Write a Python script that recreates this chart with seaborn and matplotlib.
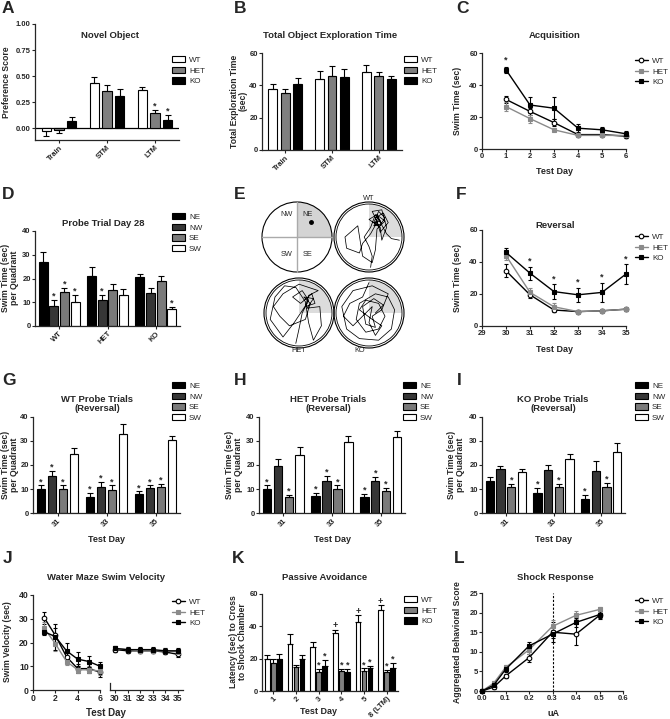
import numpy as np
import pandas as pd
import matplotlib
matplotlib.use("Agg")
import matplotlib.pyplot as plt
from matplotlib.patches import Patch, Circle, Wedge
from matplotlib.lines import Line2D
from matplotlib.ticker import FormatStrFormatter
import seaborn as sns

# ---------------- dados ----------------
genotypes = ["WT", "HET", "KO"]
quadrants = ["NE", "NW", "SE", "SW"]

# A - Novel Object (preference score)
nor_phases = ["Train", "STM", "LTM"]
pref_wt = [-0.03, 0.43, 0.37]
pref_het = [-0.02, 0.36, 0.15]
pref_ko = [0.07, 0.31, 0.08]
pref_wt_err = [0.04, 0.06, 0.03]
pref_het_err = [0.025, 0.06, 0.025]
pref_ko_err = [0.04, 0.07, 0.05]

# B - Total object exploration time
expl_wt = [37.5, 44, 48]
expl_het = [35.5, 45.5, 45.5]
expl_ko = [41, 45, 44]
expl_wt_err = [3.5, 5, 4.5]
expl_het_err = [2, 6.5, 3]
expl_ko_err = [3.5, 5, 1.5]

# C - Acquisition
acq_days = [1, 2, 3, 4, 5, 6]
acq_wt = [31, 23.5, 16.5, 9, 9, 8]
acq_het = [26.5, 19, 12, 8.5, 8.5, 8.5]
acq_ko = [49.5, 27.5, 25.5, 13, 12, 9.5]
acq_wt_err = [2, 2, 2, 1, 1, 1]
acq_het_err = [3, 2.5, 1, 1, 1, 1.5]
acq_ko_err = [2, 5, 7, 2.5, 1.5, 1.5]

# D - Probe trial day 28 (linhas = quadrantes, colunas = genótipos)
probe_ne = [27, 21, 20.5]
probe_nw = [8.5, 11, 14]
probe_se = [14.5, 15, 19]
probe_sw = [10, 13, 7]
probe_ne_err = [4, 4, 1.5]
probe_nw_err = [2.5, 2, 2]
probe_se_err = [1.5, 2.5, 2]
probe_sw_err = [3, 2.5, 1]

# E - trajetórias (coordenadas no círculo unitário)
path_wt = [(0.05, -0.95), (0.1, -0.6), (0.0, -0.3), (-0.15, 0.0), (0.05, 0.3), (0.2, 0.7),
           (0.35, 0.5), (0.15, 0.45), (0.3, 0.8), (0.5, 0.6), (0.3, 0.3), (0.2, 0.6),
           (0.45, 0.75), (0.6, 0.45), (0.35, 0.15), (0.25, 0.5), (0.1, 0.8), (0.4, 0.85),
           (0.55, 0.3), (0.4, -0.1), (0.35, 0.3), (0.0, 0.55), (0.25, 0.7), (0.4, 0.4),
           (0.15, 0.35), (0.3, 0.65), (0.5, 0.5), (0.25, 0.25), (0.2, -0.4), (0.1, -0.8),
           (-0.2, -0.6), (-0.35, 0.35), (-0.75, 0.0), (-0.7, -0.35), (-0.3, -0.5),
           (-0.2, -0.2), (0.05, 0.1), (0.3, 0.55), (0.55, 0.1), (0.7, -0.05), (0.95, -0.1)]
path_het = [(-0.1, -0.95), (0.0, -0.5), (0.1, 0.0), (0.3, 0.4), (0.1, 0.7), (-0.2, 0.5),
            (0.05, 0.3), (0.4, 0.6), (0.5, 0.3), (0.2, 0.2), (0.3, 0.55), (0.6, 0.7),
            (0.0, 0.9), (-0.5, 0.6), (-0.8, 0.2), (-0.6, -0.1), (-0.3, -0.4), (0.2, -0.2),
            (0.35, 0.3), (0.15, 0.5), (0.45, 0.45), (0.25, 0.15), (0.65, 0.2), (0.7, -0.4),
            (0.45, -0.85), (0.3, -0.3), (0.2, 0.35), (-0.1, 0.8), (-0.45, 0.85),
            (-0.75, 0.5), (-0.9, -0.2), (-0.5, -0.75), (-0.15, -0.3), (0.25, 0.3)]
path_ko = [(0.0, 0.95), (-0.2, 0.5), (-0.6, 0.3), (-0.8, -0.1), (-0.5, -0.4), (-0.2, -0.1),
           (0.1, 0.2), (0.0, -0.3), (0.2, -0.7), (0.4, -0.4), (0.1, -0.2), (-0.3, 0.1),
           (-0.1, 0.4), (0.3, 0.3), (0.5, -0.1), (0.3, -0.5), (-0.1, -0.6), (-0.4, -0.2),
           (-0.3, 0.3), (0.2, 0.6), (0.6, 0.5), (0.8, 0.1), (0.7, -0.5), (0.3, -0.85),
           (-0.3, -0.8), (-0.7, -0.5), (-0.85, 0.2), (-0.5, 0.7), (0.1, 0.85), (0.6, 0.6),
           (0.4, 0.1), (0.1, -0.1), (0.2, -0.45), (-0.1, -0.35), (-0.2, 0.2), (0.15, 0.45),
           (0.45, 0.25), (0.2, 0.0)]

# F - Reversal
rev_days = [30, 31, 32, 33, 34, 35]
rev_wt = [34.5, 19.5, 10, 9, 9.5, 10.5]
rev_het = [44, 21, 12, 9, 9.5, 10.5]
rev_ko = [46, 33, 21.5, 19.5, 21, 32.5]
rev_wt_err = [4, 2, 1, 1, 1, 1]
rev_het_err = [3, 2.5, 2.5, 1, 1, 1]
rev_ko_err = [2.5, 4, 4.5, 4.5, 6, 6]

# G, H, I - probe trials (reversal)
rev_probe_days = ["31", "33", "35"]
wt_rp_ne = [10, 6.5, 8]
wt_rp_nw = [15.5, 11, 10.5]
wt_rp_se = [10, 9.5, 11]
wt_rp_sw = [24.5, 33, 30.5]
wt_rp_ne_err = [1.5, 2, 1]
wt_rp_nw_err = [2, 2, 1]
wt_rp_se_err = [1.5, 2, 1]
wt_rp_sw_err = [2.5, 4, 1.5]

het_rp_ne = [10, 7, 6.5]
het_rp_nw = [19.5, 13.5, 13.5]
het_rp_se = [6.5, 10, 9]
het_rp_sw = [24, 29.5, 31.5]
het_rp_ne_err = [1.5, 1.5, 1.5]
het_rp_nw_err = [3, 2, 1.5]
het_rp_se_err = [1, 1.5, 1.5]
het_rp_sw_err = [3.5, 2.5, 2.5]

ko_rp_ne = [13.5, 8.5, 6]
ko_rp_nw = [18.5, 18, 17.5]
ko_rp_se = [11, 11, 11]
ko_rp_sw = [17, 22.5, 25.5]
ko_rp_ne_err = [1.5, 2, 1.5]
ko_rp_nw_err = [1, 2, 4]
ko_rp_se_err = [1, 1, 1.5]
ko_rp_sw_err = [1.5, 2, 3.5]

# J - swim velocity
vel_days_a = [1, 2, 3, 4, 5, 6]
vel_days_b = [30, 31, 32, 33, 34, 35]
vel_wt_a = [30.5, 23, 14, 9, 9, 7.5]
vel_het_a = [26, 19.5, 12, 8.5, 8.5, 8]
vel_ko_a = [24.5, 22.5, 16.5, 13, 12, 10]
vel_wt_a_err = [2.5, 3, 2, 2, 2, 2]
vel_het_a_err = [2.5, 3, 1.5, 1.5, 1.5, 1.5]
vel_ko_a_err = [1.5, 5.5, 3.5, 3, 2.5, 2]
vel_wt_b = [17, 16.5, 16.5, 16.5, 16, 15]
vel_het_b = [17.5, 17, 16.5, 16.5, 16.5, 16]
vel_ko_b = [17.5, 17, 17, 17, 16.5, 16.5]
vel_wt_b_err = [1, 1, 1, 1, 1, 1]
vel_het_b_err = [1, 1, 1, 1, 1, 1]
vel_ko_b_err = [1, 1, 1, 1, 1, 1]

# K - passive avoidance
pa_days = ["1", "2", "3", "4", "5", "8 (LTM)"]
pa_wt = [20, 29, 27.5, 36, 42.5, 50]
pa_het = [17.5, 15, 12, 12.5, 12.5, 12]
pa_ko = [19.5, 20, 15.5, 12, 14, 14]
pa_wt_err = [2.5, 6, 3, 2, 4.5, 3]
pa_het_err = [2.5, 1, 1.5, 1, 1.5, 1]
pa_ko_err = [3.5, 2, 3.5, 1.5, 1.5, 3.5]

# L - shock response
shock_ua = [0.0, 0.05, 0.1, 0.2, 0.3, 0.4, 0.5]
shock_wt = [0, 1, 3.8, 8.5, 15, 14.5, 19.3]
shock_het = [0, 2, 6, 10.5, 16.5, 19.3, 20.8]
shock_ko = [0, 1.5, 5.5, 11.5, 14.5, 17.5, 19.5]
shock_wt_err = [0.2, 0.4, 0.6, 1, 2.5, 2.7, 1]
shock_het_err = [0.2, 0.5, 0.7, 1, 1.5, 1, 0.6]
shock_ko_err = [0.2, 0.4, 0.6, 1, 1, 1.2, 0.8]

# ---------------- estilo ----------------
sns.set_theme(style="ticks")
plt.rcParams['font.family'] = ['Liberation Sans', 'DejaVu Sans']
plt.rcParams['font.weight'] = 'bold'
plt.rcParams['axes.linewidth'] = 0.9

W, H = 670, 719
fig = plt.figure(figsize=(W / 100, H / 100), dpi=100)

geno_bar_colors = ["white", "#7f7f7f", "black"]
quad_colors = ["black", "#363636", "#7a7a7a", "white"]
line_styles = {
    "WT": dict(color="black", marker="o", markerfacecolor="white", markeredgecolor="black"),
    "HET": dict(color="#8a8a8a", marker="s", markerfacecolor="#8a8a8a", markeredgecolor="#8a8a8a"),
    "KO": dict(color="black", marker="s", markerfacecolor="black", markeredgecolor="black"),
}


def new_ax(x0, y0, x1, y1):
    return fig.add_axes([x0 / W, 1 - y1 / H, (x1 - x0) / W, (y1 - y0) / H])


def ftext(x, y, s, **kw):
    return fig.text(x / W, 1 - y / H, s, **kw)


def style_ax(ax, labelsize=5.5):
    sns.despine(ax=ax)
    ax.tick_params(direction="out", length=2, width=0.8, labelsize=labelsize, pad=1)
    ax.set_xlabel("")
    ax.set_ylabel("")


def title(x, y, s):
    ftext(x, y, s, ha="center", va="center", fontsize=6.8, fontweight="bold", linespacing=1.05)


def ylab(x, y, s):
    ftext(x, y, s, ha="center", va="center", rotation=90, fontsize=6.2,
          fontweight="bold", linespacing=0.95)


def xlab(x, y, s, size=6.5):
    ftext(x, y, s, ha="center", va="center", fontsize=size, fontweight="bold")


def letter(x, y, s):
    ftext(x, y, s, ha="left", va="top", fontsize=12.5, fontweight="bold")


def legend_at(handles, labels, x, y):
    fig.legend(handles, labels, loc="upper left", bbox_to_anchor=(x / W, 1 - y / H),
               bbox_transform=fig.transFigure, frameon=False,
               prop={"size": 5.8, "weight": "normal"}, borderpad=0, borderaxespad=0,
               handletextpad=0.5, labelspacing=0.35, handlelength=1.6, handleheight=0.8)


def bar_legend(colors, labels, x, y):
    hs = [Patch(facecolor=c, edgecolor="black", linewidth=0.8) for c in colors]
    legend_at(hs, labels, x, y)


def line_legend(x, y):
    hs = [Line2D([0], [0], lw=1, markersize=3.3, markeredgewidth=0.8, **line_styles[g])
          for g in genotypes]
    legend_at(hs, genotypes, x, y)


def mark(ax, x, y, s="*", size=6.5):
    ax.annotate(s, (x, y), xytext=(0, -0.5), textcoords="offset points",
                ha="center", va="bottom", fontsize=size, fontweight="bold",
                annotation_clip=False)


def bar_panel(ax, cats, groups, colors, means, errs, width, gap, marks=()):
    rows = []
    for g, m in zip(groups, means):
        for c, v in zip(cats, m):
            rows.append({"cat": c, "grp": g, "val": v})
    df = pd.DataFrame(rows)
    sns.barplot(data=df, x="cat", y="val", hue="grp", order=cats, hue_order=groups,
                palette=dict(zip(groups, colors)), edgecolor="black", linewidth=0.8,
                width=width, gap=gap, legend=False, errorbar=None, saturation=1, ax=ax)
    ng = len(groups)
    bars = sorted(ax.patches, key=lambda p: p.get_x())
    tops = {}
    for ci in range(len(cats)):
        for gi in range(ng):
            p = bars[ci * ng + gi]
            xc = p.get_x() + p.get_width() / 2
            v, e = means[gi][ci], errs[gi][ci]
            yerr = [[0], [e]] if v >= 0 else [[e], [0]]
            ax.errorbar([xc], [v], yerr=yerr, fmt="none", ecolor="black",
                        elinewidth=0.8, capsize=2, capthick=0.8)
            tops[(gi, ci)] = (xc, v + e if v >= 0 else 0)
    for gi, ci, s in marks:
        xc, t = tops[(gi, ci)]
        mark(ax, xc, t, s)
    ax.set_xlim(-0.5, len(cats) - 0.5)


def line_panel(ax, x, means, errs, ms=3.3):
    for g, y, e in zip(genotypes, means, errs):
        st = line_styles[g]
        eb = ax.errorbar(x, y, yerr=e, fmt="none", ecolor=st["color"], elinewidth=0.8,
                         capsize=1.6, capthick=0.8, zorder=2)
        for art in eb.get_children():
            art.set_clip_on(False)
        sns.lineplot(x=x, y=y, ax=ax, lw=1, markersize=ms, markeredgewidth=0.8,
                     errorbar=None, zorder=3, clip_on=False, **st)


def rot_labels(ax, labels):
    ax.set_xticks(range(len(labels)))
    ax.set_xticklabels(labels, rotation=45, ha="right", rotation_mode="anchor")


# ---------------- A ----------------
ax = new_ax(35, 24, 179, 140)
bar_panel(ax, nor_phases, genotypes, geno_bar_colors,
          [pref_wt, pref_het, pref_ko], [pref_wt_err, pref_het_err, pref_ko_err],
          0.8, 0.28, marks=[(1, 2, "*"), (2, 2, "*")])
ax.axhline(0, color="black", lw=0.9, zorder=0.5)
ax.set_ylim(-0.112, 1.0)
ax.set_yticks([0, 0.25, 0.5, 0.75, 1.0])
ax.yaxis.set_major_formatter(FormatStrFormatter("%.2f"))
style_ax(ax)
rot_labels(ax, nor_phases)
letter(2, 1, "A")
title(110, 35, "Novel Object")
ylab(7, 82, "Preference Score")
bar_legend(geno_bar_colors, genotypes, 172, 56)

# ---------------- B ----------------
ax = new_ax(262, 53, 402, 150)
bar_panel(ax, nor_phases, genotypes, geno_bar_colors,
          [expl_wt, expl_het, expl_ko], [expl_wt_err, expl_het_err, expl_ko_err],
          0.8, 0.28)
ax.set_ylim(0, 60)
ax.set_yticks([0, 20, 40, 60])
style_ax(ax)
rot_labels(ax, nor_phases)
letter(234, 1, "B")
title(330, 35, "Total Object Exploration Time")
ylab(239, 101, "Total Exploration Time\n(sec)")
bar_legend(geno_bar_colors, genotypes, 404, 56)

# ---------------- C ----------------
ax = new_ax(482, 53, 626, 149)
line_panel(ax, acq_days, [acq_wt, acq_het, acq_ko], [acq_wt_err, acq_het_err, acq_ko_err])
mark(ax, 1, acq_ko[0] + acq_ko_err[0] + 1.5)
ax.set_xlim(0, 6)
ax.set_ylim(0, 60)
ax.set_xticks(range(0, 7))
ax.set_yticks([0, 20, 40, 60])
style_ax(ax)
letter(456, 1, "C")
title(555, 36, "Acquisition")
ylab(458, 101, "Swim Time (sec)")
xlab(555, 171, "Test Day")
line_legend(635, 57)

# ---------------- D ----------------
ax = new_ax(35, 231, 180, 326)
bar_panel(ax, genotypes, quadrants, quad_colors,
          [probe_ne, probe_nw, probe_se, probe_sw],
          [probe_ne_err, probe_nw_err, probe_se_err, probe_sw_err],
          0.88, 0.15, marks=[(1, 0, "*"), (2, 0, "*"), (3, 0, "*"), (1, 1, "*"), (3, 2, "*")])
ax.set_ylim(0, 40)
ax.set_yticks([0, 10, 20, 30, 40])
style_ax(ax)
rot_labels(ax, genotypes)
letter(2, 187, "D")
title(103, 223, "Probe Trial Day 28")
ylab(10, 278, "Swim Time (sec)\nper Quadrant")
bar_legend(quad_colors, quadrants, 172, 213)

# ---------------- E ----------------
ax = new_ax(258, 198, 408, 358)
ax.set_xlim(258, 408)
ax.set_ylim(H - 358, H - 198)
ax.set_aspect("equal")
ax.axis("off")
R = 35
centers = {"schema": (297, 237), "WT": (369, 237), "HET": (299, 313), "KO": (369, 313)}
paths = {"WT": path_wt, "HET": path_het, "KO": path_ko}
cx, cy = centers["schema"]
cy = H - cy
ax.add_patch(Wedge((cx, cy), R, 0, 90, facecolor="#d4d4d4", edgecolor="none"))
ax.plot([cx - R, cx + R], [cy, cy], color="#aaaaaa", lw=1)
ax.plot([cx, cx], [cy - R, cy + R], color="#aaaaaa", lw=1)
ax.add_patch(Circle((cx, cy), R, fill=False, edgecolor="black", lw=0.8))
for lab, (u, v) in zip(["NW", "NE", "SW", "SE"],
                       [(-0.31, 0.64), (0.3, 0.64), (-0.31, -0.5), (0.3, -0.5)]):
    ax.text(cx + R * u, cy + R * v, lab, ha="center", va="center", fontsize=5.3,
            fontweight="normal")
ax.plot([cx + R * 0.4], [cy + R * 0.43], "o", color="black", ms=2.5)
for g in ["WT", "HET", "KO"]:
    cx, cy = centers[g]
    cy = H - cy
    ax.add_patch(Wedge((cx, cy), R - 2, 0, 90, facecolor="#dcdcdc", edgecolor="none"))
    ax.add_patch(Circle((cx, cy), R, fill=False, edgecolor="black", lw=0.8))
    ax.add_patch(Circle((cx, cy), R - 2, fill=False, edgecolor="black", lw=0.6))
    pts = np.array(paths[g])
    ax.plot(cx + (R - 3) * pts[:, 0], cy + (R - 3) * pts[:, 1], color="black", lw=0.55)
ax.text(369, H - 199, "WT", ha="center", va="center", fontsize=5.3, fontweight="normal")
ax.text(299, H - 351, "HET", ha="center", va="center", fontsize=5.3, fontweight="normal")
ax.text(360, H - 351, "KO", ha="center", va="center", fontsize=5.3, fontweight="normal")
letter(234, 187, "E")

# ---------------- F ----------------
ax = new_ax(482, 230, 626, 326)
line_panel(ax, rev_days, [rev_wt, rev_het, rev_ko], [rev_wt_err, rev_het_err, rev_ko_err])
for d, v, e in zip(rev_days[1:], rev_ko[1:], rev_ko_err[1:]):
    mark(ax, d, v + e + 1)
ax.set_xlim(29, 35)
ax.set_ylim(0, 60)
ax.set_xticks(range(29, 36))
ax.set_yticks([0, 20, 40, 60])
style_ax(ax)
letter(456, 187, "F")
title(555, 225, "Reversal")
ylab(458, 278, "Swim Time (sec)")
xlab(555, 350, "Test Day")
line_legend(635, 233)

# ---------------- G, H, I ----------------
probe_sets = [
    ("G", "WT Probe Trials\n(Reversal)", (33, 180), 97, 10,
     [wt_rp_ne, wt_rp_nw, wt_rp_se, wt_rp_sw],
     [wt_rp_ne_err, wt_rp_nw_err, wt_rp_se_err, wt_rp_sw_err],
     [(0, 0, "*"), (1, 0, "*"), (2, 0, "*"), (0, 1, "*"), (1, 1, "*"), (2, 1, "*"),
      (0, 2, "*"), (1, 2, "*"), (2, 2, "*")], 172, 2),
    ("H", "HET Probe Trials\n(Reversal)", (259, 405), 328, 234,
     [het_rp_ne, het_rp_nw, het_rp_se, het_rp_sw],
     [het_rp_ne_err, het_rp_nw_err, het_rp_se_err, het_rp_sw_err],
     [(0, 0, "*"), (2, 0, "*"), (0, 1, "*"), (1, 1, "*"), (2, 1, "*"),
      (0, 2, "*"), (1, 2, "*"), (2, 2, "*")], 403, 234),
    ("I", "KO Probe Trials\n(Reversal)", (482, 625), 553, 456,
     [ko_rp_ne, ko_rp_nw, ko_rp_se, ko_rp_sw],
     [ko_rp_ne_err, ko_rp_nw_err, ko_rp_se_err, ko_rp_sw_err],
     [(2, 0, "*"), (0, 1, "*"), (2, 1, "*"), (0, 2, "*"), (2, 2, "*")], 635, 457),
]
for let, ttl, (x0, x1), tx, yx, means, errs, marks, lgx, lx in probe_sets:
    ax = new_ax(x0, 417, x1, 513)
    bar_panel(ax, rev_probe_days, quadrants, quad_colors, means, errs, 0.9, 0.22, marks=marks)
    ax.set_ylim(0, 40)
    ax.set_yticks([0, 10, 20, 30, 40])
    style_ax(ax)
    rot_labels(ax, rev_probe_days)
    letter(lx, 373, let)
    title(tx, 404, ttl)
    ylab(yx, 465, "Swim Time (sec)\nper Quadrant")
    xlab((x0 + x1) / 2, 540, "Test Day")
    bar_legend(quad_colors, quadrants, lgx, 382)

# ---------------- J ----------------
ax1 = new_ax(33, 595, 100, 690)
line_panel(ax1, vel_days_a, [vel_wt_a, vel_het_a, vel_ko_a],
           [vel_wt_a_err, vel_het_a_err, vel_ko_a_err])
ax1.set_xlim(0, 6)
ax1.set_ylim(0, 40)
ax1.set_xticks([0, 2, 4, 6])
ax1.set_yticks([0, 10, 20, 30, 40])
style_ax(ax1, labelsize=6.2)
ax2 = new_ax(110, 595, 183, 690)
line_panel(ax2, vel_days_b, [vel_wt_b, vel_het_b, vel_ko_b],
           [vel_wt_b_err, vel_het_b_err, vel_ko_b_err])
ax2.set_xlim(29.6, 35.4)
ax2.set_ylim(0, 40)
ax2.set_xticks(vel_days_b)
style_ax(ax2, labelsize=6.2)
ax2.set_yticks([])
ax2.spines["left"].set_bounds(0, 3)
letter(3, 551, "J")
title(106, 577, "Water Maze Swim Velocity")
ylab(8, 642, "Swim Velocity (sec)")
xlab(106, 713, "Test Day", size=7)
line_legend(172, 598)

# ---------------- K ----------------
ax = new_ax(262, 594, 398, 691)
k_marks = [(0, 3, "+"), (0, 4, "+"), (0, 5, "+")]
for ci in [2, 3, 4, 5]:
    k_marks += [(1, ci, "*"), (2, ci, "*")]
bar_panel(ax, pa_days, genotypes, geno_bar_colors,
          [pa_wt, pa_het, pa_ko], [pa_wt_err, pa_het_err, pa_ko_err],
          0.8, 0.2, marks=k_marks)
ax.set_ylim(0, 60)
ax.set_yticks([0, 20, 40, 60])
style_ax(ax)
rot_labels(ax, pa_days)
letter(232, 551, "K")
title(325, 577, "Passive Avoidance")
ylab(238, 642, "Latency (sec) to Cross\nto Shock Chamber")
xlab(318, 712, "Test Day")
bar_legend(geno_bar_colors, genotypes, 404, 596)

# ---------------- L ----------------
ax = new_ax(482, 593, 623, 691)
line_panel(ax, shock_ua, [shock_wt, shock_het, shock_ko],
           [shock_wt_err, shock_het_err, shock_ko_err])
ax.axvline(0.3, color="black", lw=0.8, ls=(0, (2, 1.5)), zorder=1)
ax.set_xlim(0, 0.6)
ax.set_ylim(0, 25)
ax.set_xticks([0, 0.1, 0.2, 0.3, 0.4, 0.5, 0.6])
ax.set_yticks([0, 5, 10, 15, 20, 25])
ax.xaxis.set_major_formatter(FormatStrFormatter("%.1f"))
style_ax(ax)
letter(454, 551, "L")
title(555, 577, "Shock Response")
ylab(458, 642, "Aggregated Behavioral Score")
xlab(553, 713, "uA")
line_legend(635, 597)

fig.savefig("out.png", dpi=100)
